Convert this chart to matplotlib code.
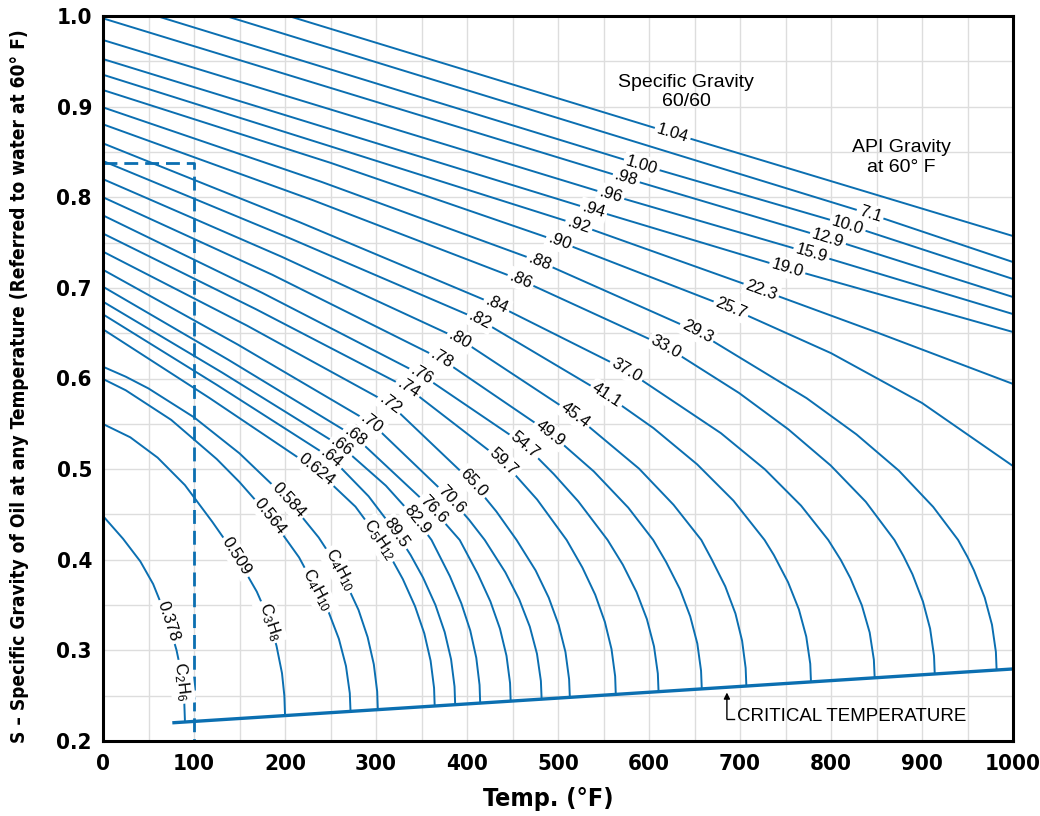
import numpy as np
import matplotlib.pyplot as plt
from matplotlib.ticker import MultipleLocator

blue = "#0b6fb1"
cond = ["Liberation Sans Narrow", "DejaVu Sans Condensed", "DejaVu Sans"]
reg = ["Liberation Sans", "DejaVu Sans"]

# curves: temperature (F) and S along each curve
curve_names = ["1.04", "1.02", "1.00", ".98", ".96", ".94", ".92", ".90", ".88", ".86",
               ".84", ".82", ".80", ".78", ".76", ".74", ".72", ".70", ".68", ".66",
               ".64", ".624", ".584", ".564", ".509", ".378"]

curve_x = [
    [204, 626, 1000],
    [135, 843, 1000],
    [59, 592, 818.5, 1000],
    [0, 575, 796.7, 1000],
    [0, 558, 778.5, 1000],
    [0, 539, 752, 1000],
    [0, 260, 523, 723.3, 850, 1000],
    [0, 250, 501.6, 690.2, 800, 900, 1000],
    [0, 240, 480, 653, 773.2, 828, 874.6, 912.3, 939.7, 949.9, 957.1, 968.9, 976.9, 981.2, 982],
    [0, 230, 459, 618.7, 699, 753, 799.7, 838.2, 869.7, 879.7, 889.5, 901, 908.9, 913.2, 914],
    [0, 216, 432.6, 575.5, 679, 727.4, 767.1, 797, 810.8, 821.3, 833.9, 842.5, 847.1, 848],
    [0, 207, 414.3, 553.5, 605, 653, 692.8, 727, 737.2, 752.8, 764.7, 772.8, 777.2, 778],
    [0, 196, 392.3, 518.7, 589, 627, 657.5, 668.8, 683.8, 695, 702.3, 706.2, 707],
    [0, 186, 372.2, 491.2, 539.3, 577.2, 604.6, 618.8, 634, 645.3, 653.1, 657.2, 658],
    [0, 175, 350.2, 463.7, 495.5, 522.3, 554.5, 571.3, 586.3, 597.7, 605.5, 609.7, 610.5],
    [0, 168, 335.5, 439.9, 477.1, 509.5, 526.8, 540.9, 551.5, 558.8, 562.8, 563.5],
    [0, 158, 315.4, 406.9, 432.3, 454.5, 475.4, 489.8, 500.7, 508.2, 512.2, 513],
    [0, 148, 295.3, 383.2, 402.2, 419.5, 442.1, 457.4, 469, 476.9, 481.2, 482],
    [0, 138, 276.9, 363, 392, 412, 425.7, 436.2, 443.4, 447.3, 448],
    [0, 131, 262.3, 310.8, 344.7, 361, 381.2, 393.8, 403.6, 410.2, 413.8, 414.5],
    [0, 125, 251.3, 291.8, 322.7, 338.1, 351.8, 365.3, 375.5, 382.5, 386.3, 387],
    [0, 117, 234.8, 277.4, 304.4, 315.8, 329.5, 342.9, 353.1, 360, 363.8, 364.5],
    [0, 25, 50, 100, 150, 203.6, 237, 260.4, 280.8, 290.8, 297.6, 301.3, 302],
    [0, 25, 75, 125, 150, 183.5, 215.4, 234.8, 247.8, 259.2, 267, 271.2, 272],
    [0, 30, 60, 90, 120, 146.9, 169, 183.5, 190.7, 196.7, 199.3, 200],
    [0, 22, 41, 55.1, 71.8, 80.8, 84.4, 86.5, 89.3, 90],
]
curve_y = [
    [1.0, 0.8705, 0.7572],
    [1.0, 0.7815, 0.7285],
    [1.0, 0.8356, 0.7694, 0.7098],
    [0.9974, 0.8209, 0.7547, 0.6899],
    [0.9735, 0.8025, 0.7381, 0.6711],
    [0.9525, 0.7859, 0.7216, 0.6513],
    [0.9352, 0.853, 0.7694, 0.6977, 0.651, 0.594],
    [0.9183, 0.838, 0.751, 0.6775, 0.628, 0.573, 0.5034],
    [0.8992, 0.817, 0.7289, 0.6517, 0.5783, 0.5383, 0.4983, 0.4583, 0.4218, 0.4033, 0.3883,
     0.3583, 0.3283, 0.2983, 0.2783],
    [0.8805, 0.797, 0.7087, 0.6351, 0.584, 0.544, 0.504, 0.464, 0.4218, 0.404, 0.384,
     0.354, 0.324, 0.294, 0.274],
    [0.8595, 0.7725, 0.6811, 0.6092, 0.5397, 0.4997, 0.4597, 0.4218, 0.3997, 0.3797, 0.3497,
     0.3197, 0.2897, 0.2697],
    [0.840, 0.754, 0.6646, 0.5816, 0.5452, 0.5052, 0.4652, 0.4218, 0.4052, 0.3752, 0.3452,
     0.3152, 0.2852, 0.2652],
    [0.820, 0.7345, 0.6433, 0.5596, 0.5006, 0.4606, 0.4218, 0.4006, 0.3706, 0.3406, 0.3106,
     0.2806, 0.2606],
    [0.800, 0.7145, 0.6212, 0.5398, 0.4975, 0.4575, 0.4218, 0.3975, 0.3675, 0.3375, 0.3075,
     0.2775, 0.2575],
    [0.780, 0.6945, 0.6039, 0.5266, 0.4944, 0.4644, 0.4218, 0.3944, 0.3644, 0.3344, 0.3044,
     0.2744, 0.2544],
    [0.760, 0.6765, 0.5892, 0.5083, 0.4664, 0.4218, 0.3914, 0.3614, 0.3314, 0.3014, 0.2714,
     0.2514],
    [0.740, 0.6585, 0.5719, 0.4844, 0.4532, 0.4218, 0.3882, 0.3582, 0.3282, 0.2982, 0.2682,
     0.2482],
    [0.720, 0.6375, 0.5506, 0.466, 0.4442, 0.4218, 0.3862, 0.3562, 0.3262, 0.2962, 0.2662,
     0.2462],
    [0.7013, 0.6205, 0.5358, 0.455, 0.4218, 0.384, 0.354, 0.324, 0.294, 0.264, 0.244],
    [0.6848, 0.6065, 0.5247, 0.4818, 0.444, 0.4218, 0.3818, 0.3518, 0.3218, 0.2918, 0.2618,
     0.2418],
    [0.6708, 0.593, 0.5119, 0.4701, 0.4293, 0.4051, 0.3801, 0.3501, 0.3201, 0.2901, 0.2601,
     0.2401],
    [0.6543, 0.5785, 0.499, 0.4586, 0.4219, 0.4036, 0.3786, 0.3486, 0.3186, 0.2886, 0.2586,
     0.2386],
    [0.613, 0.602, 0.589, 0.5572, 0.5174, 0.4659, 0.4246, 0.3887, 0.3446, 0.3146, 0.2846,
     0.2546, 0.2346],
    [0.5995, 0.587, 0.5543, 0.5111, 0.4857, 0.4475, 0.4027, 0.3666, 0.3427, 0.3127, 0.2827,
     0.2527, 0.2327],
    [0.5498, 0.5351, 0.5127, 0.4824, 0.442, 0.4034, 0.3648, 0.3317, 0.3048, 0.2748, 0.2498,
     0.2298],
    [0.4483, 0.4232, 0.3982, 0.3732, 0.3317, 0.3002, 0.283, 0.2654, 0.2432, 0.2232],
]

# left-hand labels (specific gravity 60/60) and where they sit
sg_text = ["1.04", None, "1.00", ".98", ".96", ".94", ".92", ".90", ".88", ".86",
           ".84", ".82", ".80", ".78", ".76", ".74", ".72", ".70", ".68", ".66",
           ".64", "0.624", "0.584", "0.564", "0.509", "0.378"]
sg_x = [626, None, 592, 575, 558, 539, 523, 501.6, 480, 459,
        432.6, 414.3, 392.3, 372.2, 350.2, 335.5, 315.4, 295.3, 276.9, 262.3,
        251.3, 234.8, 203.6, 183.5, 146.9, 71.8]

# right-hand labels (API gravity / compound)
api_text = [None, "7.1", "10.0", "12.9", "15.9", "19.0", "22.3", "25.7", "29.3", "33.0",
            "37.0", "41.1", "45.4", "49.9", "54.7", "59.7", "65.0", "70.6", "76.6", "82.9",
            "89.5", r"$\mathregular{C_5H_{12}}$", r"$\mathregular{C_4H_{10}}$",
            r"$\mathregular{C_4H_{10}}$", r"$\mathregular{C_3H_8}$", r"$\mathregular{C_2H_6}$"]
api_x = [None, 843, 818.5, 796.7, 778.5, 752, 723.3, 690.2, 653, 618.7,
         575.5, 553.5, 518.7, 491.2, 463.7, 439.9, 406.9, 383.2, 363, 344.7,
         322.7, 304.4, 260.4, 234.8, 183.5, 86.5]

crit_x = [78, 1000]
crit_y = [0.2202, 0.2795]

x_ticks = list(range(0, 1001, 100))
y_ticks = [0.2, 0.3, 0.4, 0.5, 0.6, 0.7, 0.8, 0.9, 1.0]

fig = plt.figure(figsize=(10.4, 8.16), dpi=100)
ax = fig.add_axes([103 / 1040, 75 / 816, 910 / 1040, 725 / 816])
ax.set_xlim(0, 1000)
ax.set_ylim(0.2, 1.0)

ax.set_xticks(x_ticks)
ax.set_xticklabels([str(v) for v in x_ticks])
ax.set_yticks(y_ticks)
ax.set_yticklabels([f"{v:.1f}" for v in y_ticks])
ax.xaxis.set_minor_locator(MultipleLocator(50))
ax.yaxis.set_minor_locator(MultipleLocator(0.05))
ax.grid(True, which="both", color="#dddddd", lw=1.0, zorder=0)
ax.set_axisbelow(True)
ax.tick_params(which="both", length=0)
ax.tick_params(axis="x", pad=9)
ax.tick_params(axis="y", pad=8)
for lab in ax.get_xticklabels() + ax.get_yticklabels():
    lab.set_fontfamily(cond)
    lab.set_fontstretch("condensed")
    lab.set_fontweight("bold")
    lab.set_fontsize(16)
for s in ax.spines.values():
    s.set_linewidth(2.2)

for xs, ys in zip(curve_x, curve_y):
    ax.plot(xs, ys, color=blue, lw=1.4, zorder=2, solid_joinstyle="round")

ax.plot(crit_x, crit_y, color=blue, lw=2.4, zorder=2)
ax.plot([0, 100, 100], [0.838, 0.838, 0.2], color=blue, lw=2.0,
        ls=(0, (5, 2.5)), zorder=2)


def put_label(txt, xs, ys, x0):
    y0 = np.interp(x0, xs, ys)
    a, b = np.interp([x0 - 3, x0 + 3], xs, ys)
    p = ax.transData.transform([(x0 - 3, a), (x0 + 3, b)])
    ang = np.degrees(np.arctan2(p[1, 1] - p[0, 1], p[1, 0] - p[0, 0]))
    ax.text(x0, y0, txt, rotation=ang, rotation_mode="anchor", ha="center",
            va="center", fontsize=12, family=reg, zorder=3,
            bbox=dict(boxstyle="square,pad=0.15", fc="white", ec="none"))


for i in range(len(curve_x)):
    if sg_text[i]:
        put_label(sg_text[i], curve_x[i], curve_y[i], sg_x[i])
    if api_text[i]:
        put_label(api_text[i], curve_x[i], curve_y[i], api_x[i])

ax.text(641, 0.916, "Specific Gravity\n60/60", ha="center", va="center",
        fontsize=14, family=reg, linespacing=1.2)
ax.text(877, 0.844, "API Gravity\nat 60\u00b0 F", ha="center", va="center",
        fontsize=14, family=reg, linespacing=1.2)

ax.annotate("", xy=(685.6, 0.2535), xytext=(685.6, 0.2243),
            arrowprops=dict(arrowstyle="-|>", color="black", lw=1, mutation_scale=9,
                            shrinkA=0, shrinkB=0))
ax.plot([685.6, 693.5], [0.2243, 0.2243], color="black", lw=1)
ax.text(696.5, 0.2265, "CRITICAL TEMPERATURE", ha="left", va="center",
        fontsize=13.5, family=reg)

ax.set_xlabel("Temp. (\u00b0F)", fontsize=18, fontweight="bold", family=cond,
              fontstretch="condensed")
ax.xaxis.set_label_coords(0.489, -0.064)
ylab = ax.set_ylabel("S \u2013 Specific Gravity of Oil at any Temperature (Referred to water at 60\u00b0 F)",
                     fontsize=15.5, fontweight="bold", family=cond, fontstretch="condensed")
ax.yaxis.set_label_coords(-0.081, 0.49)

# keep the long axis title inside the plot height
fig.canvas.draw()
h = ylab.get_window_extent().height
if h > 712:
    ylab.set_fontsize(15.5 * 712 / h)

fig.savefig("out.png", dpi=100)
